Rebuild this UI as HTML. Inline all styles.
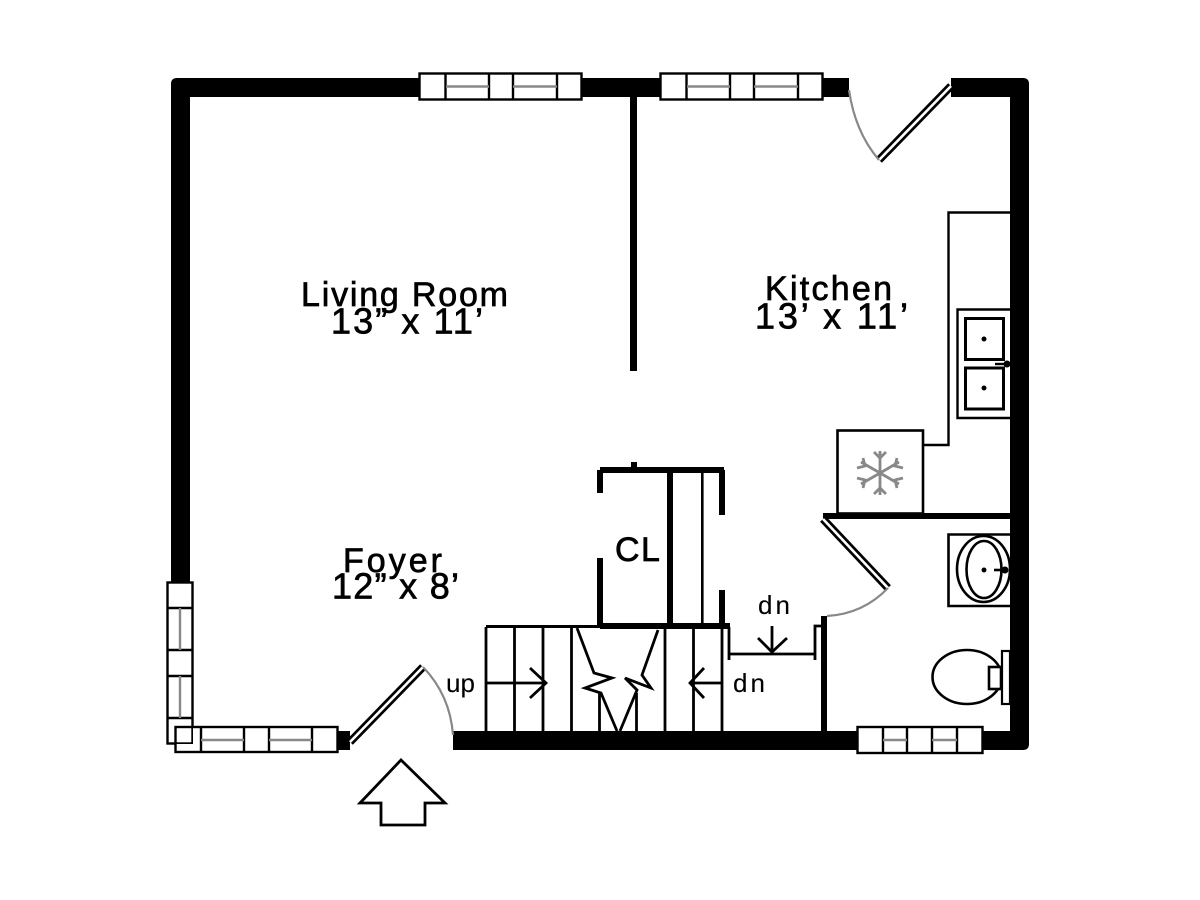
<!DOCTYPE html>
<html><head><meta charset="utf-8"><style>
html,body{margin:0;padding:0;background:#fff}
svg{display:block}
text{font-family:"Liberation Sans",sans-serif;fill:#000;stroke:#000;stroke-width:.7}
</style></head><body>
<svg width="1200" height="900" viewBox="0 0 1200 900" xmlns="http://www.w3.org/2000/svg">
<rect width="1200" height="900" fill="#fff"/>
<!-- Outer walls -->
<path d="M171 582V84Q171 78 177 78H849V97H190V582Z" fill="#000"/>
<path d="M951 78H1023Q1029 78 1029 84V744Q1029 750 1023 750H453V731H1010V97H951Z" fill="#000"/>
<rect x="338" y="731" width="12" height="19" fill="#000"/>
<!-- Partition + kitchen/bath walls -->
<rect x="630" y="97" width="7" height="274" fill="#000"/>
<rect x="823" y="513" width="187" height="6" fill="#000"/>
<rect x="821" y="616" width="6" height="115" fill="#000"/>
<!-- Closet -->
<g fill="#000">
<rect x="600" y="467" width="124" height="6"/>
<rect x="631" y="462" width="6" height="6"/>
<rect x="597" y="470" width="6" height="23"/>
<rect x="597" y="558" width="6" height="69"/>
<rect x="667" y="470" width="6" height="157"/>
<rect x="701" y="470" width="2.6" height="157"/>
<rect x="719" y="470" width="6" height="45"/>
<rect x="719" y="590" width="6" height="37"/>
<rect x="600" y="623" width="130" height="6"/>
<rect x="486" y="625" width="114" height="3"/>
</g>
<!-- Stairs -->
<g stroke="#000" stroke-width="2.8" fill="none">
<path d="M486 627V731M514.500 627V731M543 627V731M571.500 627V731M599.500 693V731M636.500 693V731M665 627V731M693.500 627V731M722 627V731"/>
<path d="M577 628L594 673L612 678L585 688L601 693L617 731M620 731L637 690L625 678L651 688L642 675L658 630"/>
<path d="M486 683H546M530 668L546 683L530 698M722 683H690M704 668L690 683L704 698"/>
<path d="M729 627V660M729 654H815M815 660V626H822M772 626V652M758 638L772 652L787 638"/>
</g>
<!-- Windows -->
<g stroke="#000" stroke-width="2.4" fill="#fff">
<rect x="419.500" y="73.500" width="162" height="26"/>
<path d="M445.500 73.500V99.500M489 73.500V99.500M513 73.500V99.500M557 73.500V99.500"/>
<rect x="660.500" y="73.500" width="162" height="26"/>
<path d="M686.500 73.500V99.500M730 73.500V99.500M754 73.500V99.500M798 73.500V99.500"/>
<rect x="857.500" y="727" width="125" height="26"/>
<path d="M883 727V753M907 727V753M932 727V753M957 727V753"/>
<rect x="167.500" y="582.500" width="25" height="161"/>
<path d="M167.500 608H192.500M167.500 650H192.500M167.500 676H192.500M167.500 718H192.500"/>
<rect x="193" y="728" width="144" height="23" stroke="none"/>
<rect x="175.500" y="744" width="18" height="8" stroke="none"/>
<rect x="175.500" y="727" width="162" height="25" fill="none"/>
<path d="M201 727V752M244 727V752M269 727V752M312 727V752"/>
</g>
<g stroke="#888" stroke-width="2.4" fill="none">
<path d="M446 86.500H489M513 86.500H557M687 86.500H730M754 86.500H798M883 740H907M932 740H957M180 608V650M180 676V718M201 740H244M269 740H312"/>
</g>
<!-- Doors -->
<g fill="none">
<path d="M951 86L879 160M423 667L350 742M823 519L888 588" stroke="#000" stroke-width="8"/>
<path d="M951 86L879 160M423 667L350 742M823 519L888 588" stroke="#fff" stroke-width="2.6"/>
<path d="M849 90Q855 132 879 160M423 667Q450 695 453 735M827 616Q863 614 888 588" stroke="#888" stroke-width="2.2"/>
</g>
<!-- Kitchen fixtures -->
<g fill="none" stroke="#000" stroke-width="2.4">
<path d="M1010 212.500H948.500V445H923"/>
<rect x="837.500" y="430.500" width="85.500" height="83" stroke-width="2.6"/>
<path d="M1010 309.500H957.500V418H1010"/>
<rect x="965.500" y="318.500" width="38" height="41" stroke-width="3"/>
<rect x="965.500" y="368" width="38" height="41" stroke-width="3"/>
<path d="M995 364H1007"/>
</g>
<g fill="#000"><circle cx="984" cy="339" r="2.5"/><circle cx="984" cy="388" r="2.5"/><circle cx="1007" cy="364" r="3.500"/></g>
<!-- Snowflake -->
<g fill="none" stroke="#888" stroke-width="2.8">
<path d="M880 451V495M861 462L899 484M899 462L861 484"/>
<path d="M874 452L880 458L886 452M874 494L880 488L886 494M857 468L865 466L863 458M903 468L895 466L897 458M857 478L865 480L863 488M903 478L895 480L897 488"/>
</g>
<!-- Bath fixtures -->
<g fill="none" stroke="#000" stroke-width="2.6">
<path d="M1010 534.500H948.500V606H1010"/>
<ellipse cx="983.500" cy="569" rx="26.500" ry="33"/>
<ellipse cx="984" cy="569.500" rx="17.500" ry="28.500"/>
<path d="M994 570H1006"/>
<ellipse cx="967" cy="677" rx="34.500" ry="27"/>
<rect x="1002" y="651" width="8" height="53" fill="#fff" stroke-width="2.2"/>
<rect x="989" y="667" width="12" height="22" fill="#fff"/>
</g>
<rect x="1010" y="536" width="19" height="66" fill="#000"/>
<circle cx="984" cy="570" r="2.500" fill="#000"/><circle cx="1005" cy="570" r="3.500" fill="#000"/>
<!-- Entry arrow -->
<path d="M401 760L445 803H425V825H381V803H360Z" fill="#fff" stroke="#000" stroke-width="2.8"/>
<!-- Labels -->
<text x="301" y="306" font-size="34" textLength="207" lengthAdjust="spacing">Living Room</text>
<text x="331" y="333.500" font-size="36" textLength="152" lengthAdjust="spacing">13” x 11’</text>
<text x="765" y="300" font-size="34" textLength="127" lengthAdjust="spacing">Kitchen</text>
<text x="755" y="328.500" font-size="36" textLength="153" lengthAdjust="spacing">13’ x 11’</text>
<text x="343" y="572" font-size="34" textLength="99" lengthAdjust="spacing">Foyer</text>
<text x="332" y="598.500" font-size="36" textLength="127" lengthAdjust="spacing">12” x 8’</text>
<text x="615 641" y="561" font-size="34">CL</text>
<text x="446" y="692" font-size="26" style="stroke-width:.1">up</text>
<text x="733" y="692" font-size="26" textLength="32" lengthAdjust="spacing" style="stroke-width:.1">dn</text>
<text x="758" y="614" font-size="26" textLength="32" lengthAdjust="spacing" style="stroke-width:.1">dn</text>
</svg>
</body></html>
